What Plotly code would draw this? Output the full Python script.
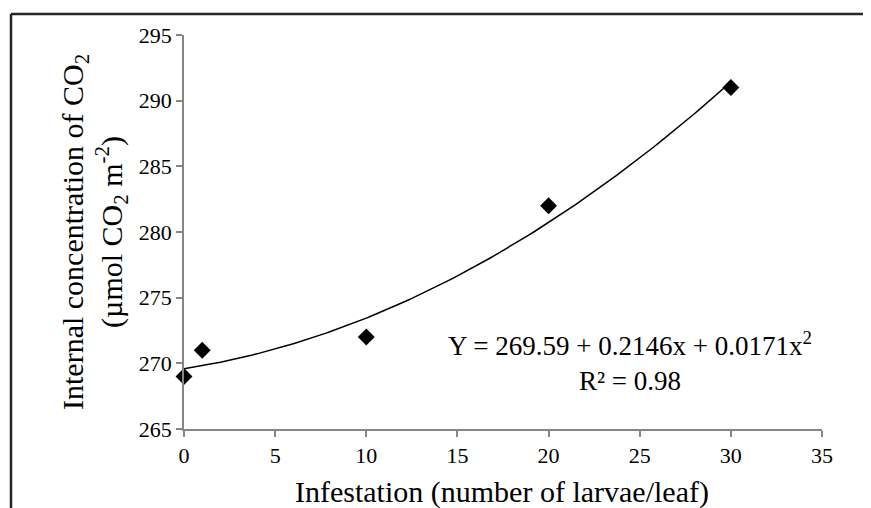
import numpy as np
import plotly.graph_objects as go

# Data
infestation = [0, 1, 10, 20, 30]
co2_internal = [269, 271, 272, 282, 291]
# Quadratic trendline coefficients shown on chart
coef_a, coef_b, coef_c = 269.59, 0.2146, 0.0171
x_ticks = [0, 5, 10, 15, 20, 25, 30, 35]
y_ticks = [265, 270, 275, 280, 285, 290, 295]

OFF = 8  # default page body margin
W, H = 871 - OFF, 508 - OFF
# plot area in viewport pixels
L, R, T, B = 184, 822, 35, 429

xt = np.linspace(0, 30, 121)
yt = coef_a + coef_b * xt + coef_c * xt ** 2

fig = go.Figure()
fig.add_trace(go.Scatter(x=xt, y=yt, mode="lines",
                         line=dict(color="black", width=1.5),
                         hoverinfo="skip", showlegend=False))
fig.add_trace(go.Scatter(x=infestation, y=co2_internal, mode="markers",
                         marker=dict(symbol="diamond", size=13, color="black"),
                         cliponaxis=False, showlegend=False))

font_family = "Liberation Serif"
axis_common = dict(showgrid=False, zeroline=False, showline=True,
                   linecolor="#868686", linewidth=1.5, ticks="outside",
                   ticklen=6, tickcolor="#868686", tickwidth=1.5,
                   tickfont=dict(family=font_family, size=22, color="black"))

fig.update_xaxes(range=[0, 35], tickvals=x_ticks, **axis_common)
fig.update_yaxes(range=[265, 295], tickvals=y_ticks, **axis_common)


def px(xp):
    return (xp - L) / (R - L)


def py(yp):
    return (B - yp) / (B - T)


fig.add_annotation(xref="paper", yref="paper", x=px(502), y=py(492),
                   text="Infestation (number of larvae/leaf)", showarrow=False,
                   xanchor="center", yanchor="middle",
                   font=dict(family=font_family, size=30, color="black"))
fig.add_annotation(xref="paper", yref="paper", x=px(94), y=py(232),
                   text="Internal concentration of CO<sub>2</sub><br>(µmol CO<sub>2</sub> m<sup>-2</sup>)",
                   showarrow=False, textangle=-90, xanchor="center", yanchor="middle",
                   font=dict(family=font_family, size=30, color="black"))
fig.add_annotation(xref="paper", yref="paper", x=px(630), y=py(361),
                   text="Y = 269.59 + 0.2146x + 0.0171x<sup>2</sup><br>R² = 0.98",
                   showarrow=False, xanchor="center", yanchor="middle", align="center",
                   font=dict(family=font_family, size=27, color="black"))

# Frame lines (top and left)
fig.add_shape(type="line", xref="paper", yref="paper",
              x0=px(11), x1=px(871), y0=py(14), y1=py(14),
              line=dict(color="#262626", width=2.5))
fig.add_shape(type="line", xref="paper", yref="paper",
              x0=px(11), x1=px(11), y0=py(14), y1=py(508),
              line=dict(color="#262626", width=2.5))

fig.update_layout(width=W, height=H,
                  margin=dict(l=L - OFF, r=(W + OFF) - R, t=T - OFF, b=(H + OFF) - B),
                  plot_bgcolor="white", paper_bgcolor="white",
                  font=dict(family=font_family))

fig.write_html("out.html")
